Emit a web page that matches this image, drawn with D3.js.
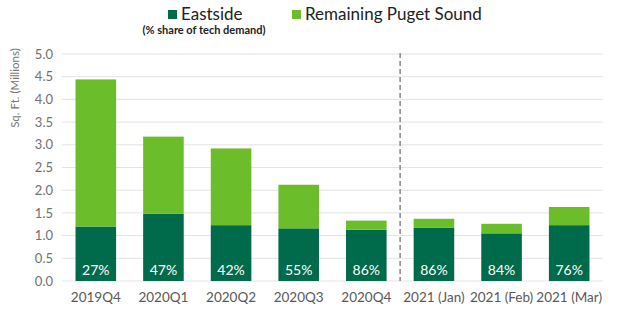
<!DOCTYPE html>
<html>
<head>
<meta charset="utf-8">
<script src="https://cdn.jsdelivr.net/npm/d3@7"></script>
<style>
  body { margin: 0; background: #fff; }
  svg text { font-family: Lato, "Open Sans", sans-serif; }
</style>
</head>
<body>
<div class="chart"></div>
<script>
// Chart data
const periods = ['2019Q4', '2020Q1', '2020Q2', '2020Q3', '2020Q4', '2021 (Jan)', '2021 (Feb)', '2021 (Mar)'];
const eastside = [1.20, 1.48, 1.23, 1.16, 1.13, 1.17, 1.05, 1.23];
const remaining = [3.24, 1.70, 1.69, 0.96, 0.20, 0.20, 0.21, 0.40];
const shares = ['27%', '47%', '42%', '55%', '86%', '86%', '84%', '76%'];
const yTicks = [0, 0.5, 1, 1.5, 2, 2.5, 3, 3.5, 4, 4.5, 5];

const width = 630;
const height = 330;
const margin = { top: 54, right: 27, bottom: 49, left: 62 };

const colors = { eastside: '#006B4A', remaining: '#6BBD2A' };

const svg = d3.select('.chart')
  .append('svg')
  .attr('width', width)
  .attr('height', height);

const x = d3.scaleBand()
  .domain(periods)
  .range([margin.left, width - margin.right])
  .paddingInner(0.4)
  .paddingOuter(0.2);

const y = d3.scaleLinear()
  .domain([0, 5])
  .range([height - margin.bottom, margin.top]);

// Gridlines
svg.append('g')
  .selectAll('line')
  .data(yTicks)
  .join('line')
  .attr('x1', margin.left)
  .attr('x2', width - margin.right)
  .attr('y1', d => y(d))
  .attr('y2', d => y(d))
  .attr('stroke', '#e3e3e3')
  .attr('stroke-width', 1);

// Y axis
const yAxis = svg.append('g')
  .attr('transform', `translate(${margin.left},0)`)
  .call(d3.axisLeft(y).tickValues(yTicks).tickFormat(d3.format('.1f')).tickSize(0).tickPadding(9));
yAxis.select('.domain').remove();
yAxis.selectAll('text')
  .attr('fill', '#707070')
  .style('font-size', '13px');

svg.append('text')
  .attr('transform', 'translate(19,88) rotate(-90)')
  .attr('text-anchor', 'middle')
  .attr('fill', '#777')
  .style('font-size', '11.5px')
  .text('Sq. Ft. (Millions)');

// X axis
const xAxis = svg.append('g')
  .attr('transform', `translate(0,${y(0)})`)
  .call(d3.axisBottom(x).tickSize(0).tickPadding(11));
xAxis.select('.domain').remove();
xAxis.selectAll('text')
  .attr('fill', '#595959')
  .style('font-size', '13.5px');

// Stacked bars
const rows = periods.map((p, i) => ({ period: p, eastside: eastside[i], remaining: remaining[i], share: shares[i] }));
const stack = d3.stack().keys(['eastside', 'remaining'])(rows);

svg.append('g')
  .selectAll('g')
  .data(stack)
  .join('g')
  .attr('fill', d => colors[d.key])
  .selectAll('rect')
  .data(d => d)
  .join('rect')
  .attr('x', d => x(d.data.period))
  .attr('width', x.bandwidth())
  .attr('y', d => y(d[1]))
  .attr('height', d => y(d[0]) - y(d[1]));

// Share labels
svg.append('g')
  .selectAll('text')
  .data(rows)
  .join('text')
  .attr('x', d => x(d.period) + x.bandwidth() / 2)
  .attr('y', y(0) - 6)
  .attr('text-anchor', 'middle')
  .attr('fill', '#fff')
  .style('font-size', '14px')
  .text(d => d.share);

// Divider between quarters and months
const divX = (x(periods[4]) + x.bandwidth() + x(periods[5])) / 2;
svg.append('line')
  .attr('x1', divX)
  .attr('x2', divX)
  .attr('y1', y(5) - 1)
  .attr('y2', y(0))
  .attr('stroke', '#888')
  .attr('stroke-width', 1.5)
  .attr('stroke-dasharray', '5,3');

// Legend
const legend = svg.append('g');
const legendItems = [
  { key: 'eastside', label: 'Eastside', x: 168 },
  { key: 'remaining', label: 'Remaining Puget Sound', x: 292 },
];
legendItems.forEach(item => {
  legend.append('rect')
    .attr('x', item.x)
    .attr('y', 10)
    .attr('width', 9)
    .attr('height', 9)
    .attr('fill', colors[item.key]);
  legend.append('text')
    .attr('x', item.x + 13)
    .attr('y', 20)
    .attr('fill', '#222')
    .style('font-size', '17px')
    .text(item.label);
});
legend.append('text')
  .attr('x', 204)
  .attr('y', 34)
  .attr('text-anchor', 'middle')
  .attr('fill', '#222')
  .style('font-size', '11px')
  .style('font-weight', 'bold')
  .text('(% share of tech demand)');
</script>
</body>
</html>
